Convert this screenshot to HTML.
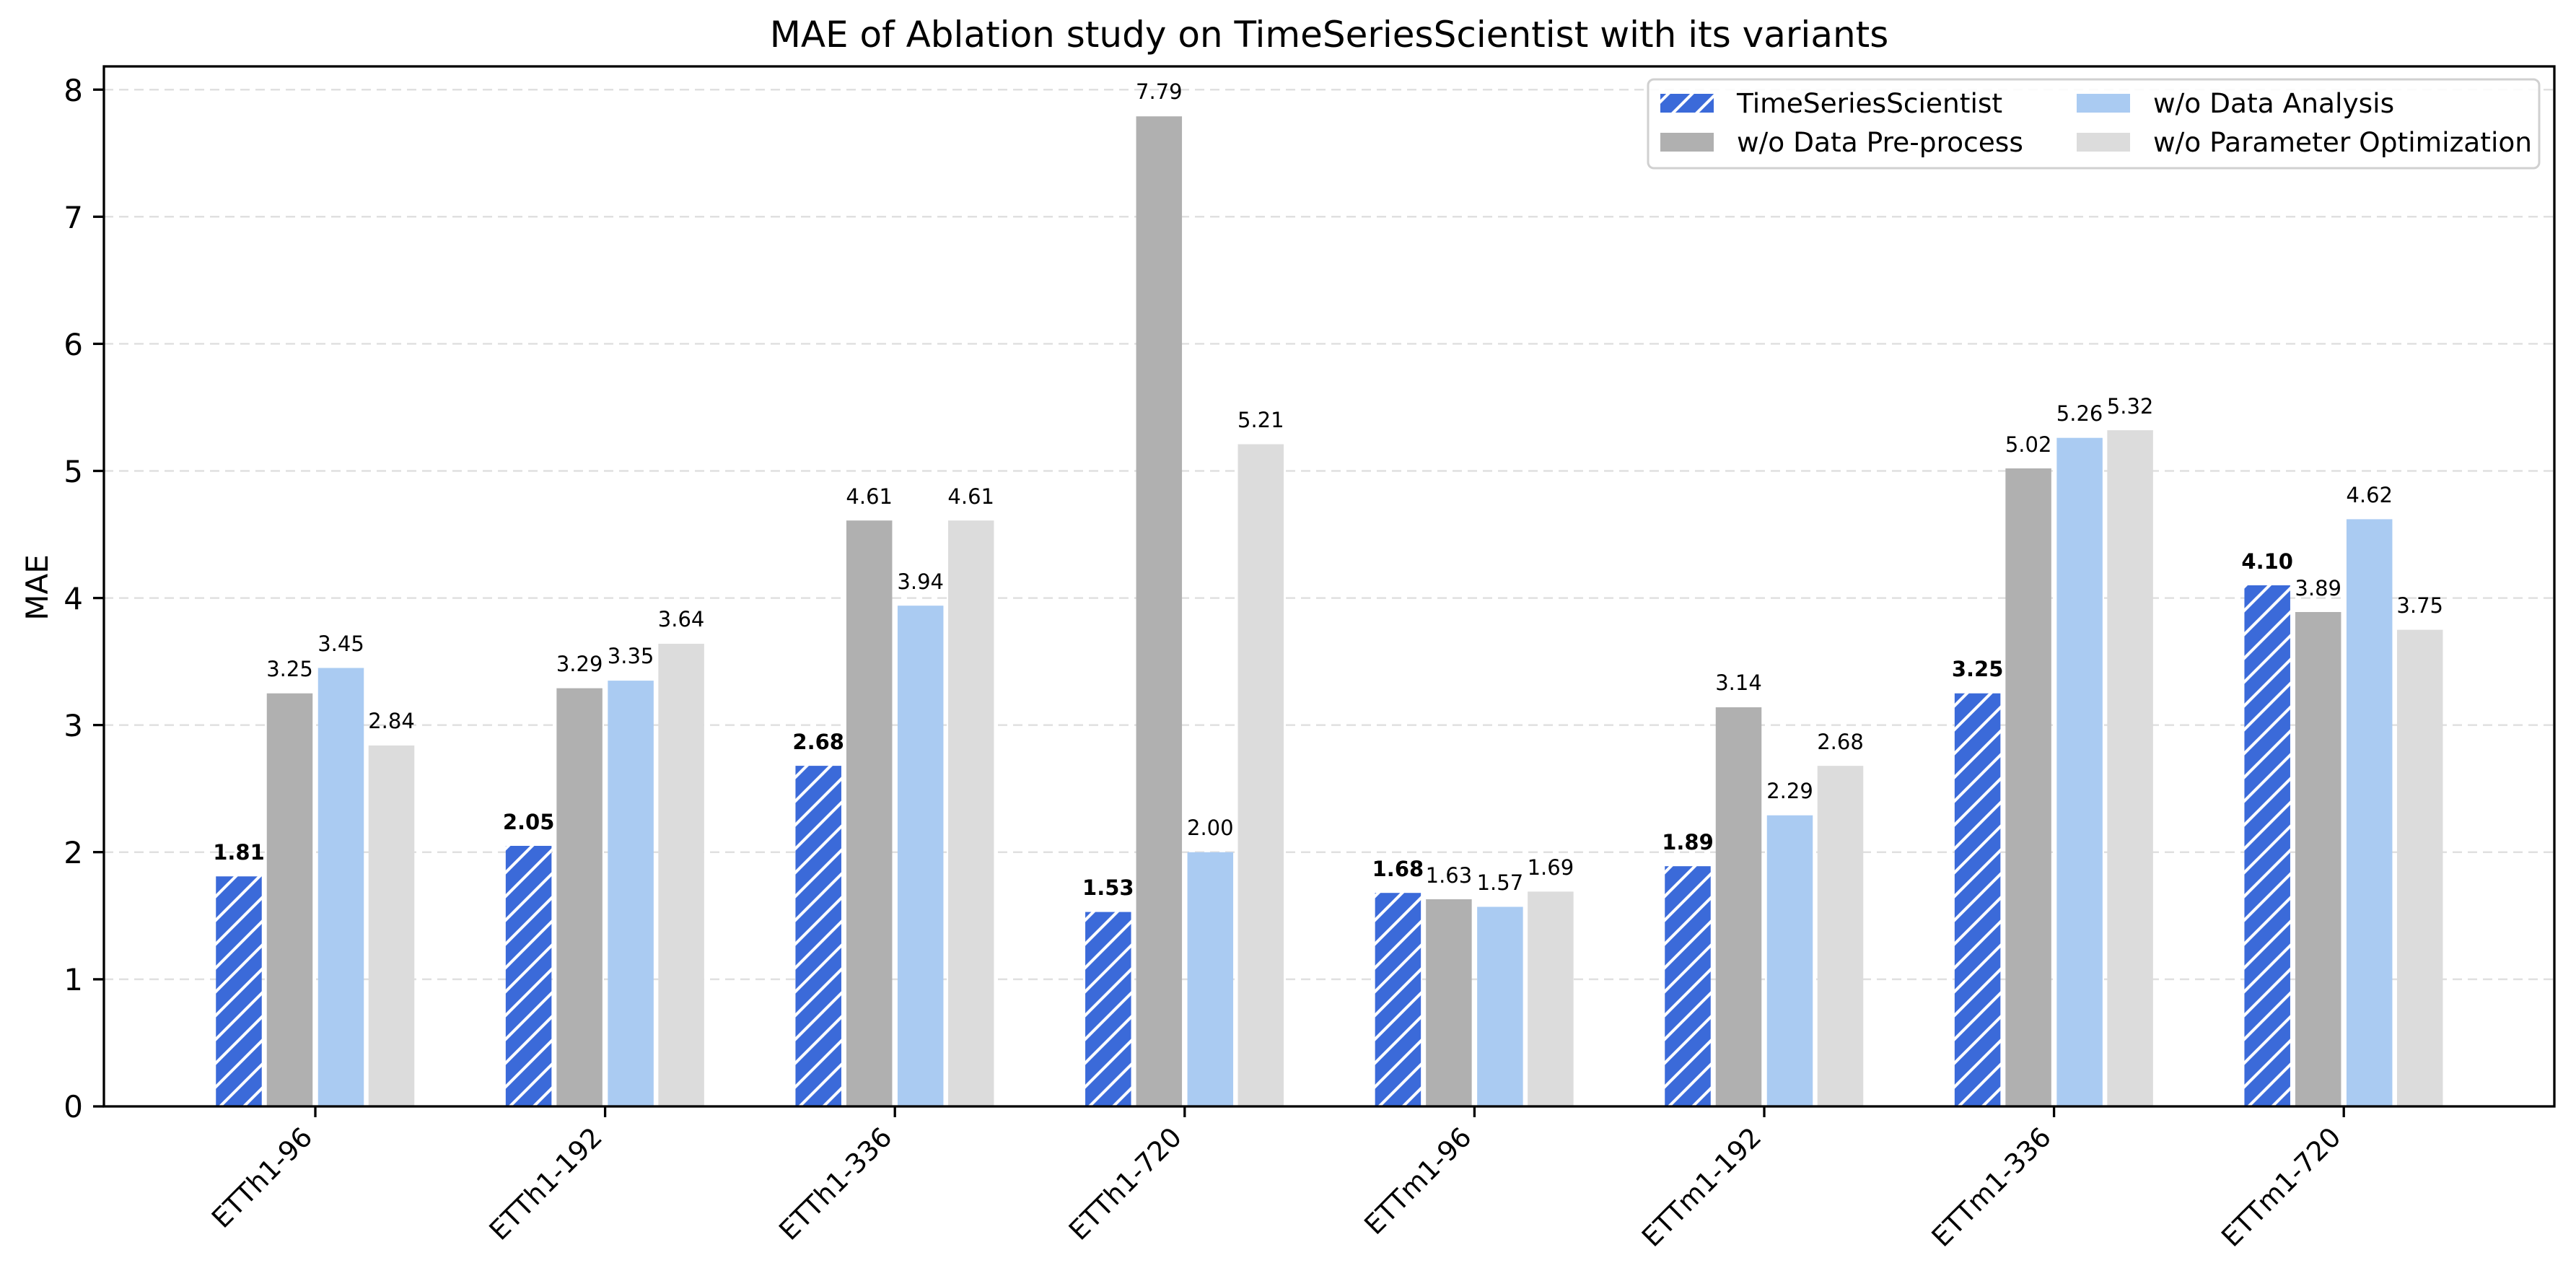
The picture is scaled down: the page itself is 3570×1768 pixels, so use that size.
<!DOCTYPE html>
<html><head><meta charset="utf-8"><style>
html,body{margin:0;padding:0;background:#fff;}
svg{display:block;font-family:"DejaVu Sans","Liberation Sans",sans-serif;}
</style></head><body>
<svg width="3570" height="1768" viewBox="0 0 3570 1768" xmlns="http://www.w3.org/2000/svg">
<defs>
<pattern id="h" patternUnits="userSpaceOnUse" width="33" height="33">
<rect width="33" height="33" fill="#3B6AD9"/>
<line x1="-8" y1="41" x2="41" y2="-8" stroke="#fff" stroke-width="4"/>
<line x1="-25" y1="25" x2="25" y2="-25" stroke="#fff" stroke-width="4"/>
<line x1="8" y1="58" x2="58" y2="8" stroke="#fff" stroke-width="4"/>
</pattern>
</defs>
<rect width="3570" height="1768" fill="#fff"/>
<text x="1842" y="65" font-size="50" text-anchor="middle">MAE of Ablation study on TimeSeriesScientist with its variants</text>
<g stroke="#e0e0e0" stroke-width="2.5" stroke-dasharray="13,8">
<line x1="144" x2="3540" y1="1356.9" y2="1356.9"/>
<line x1="144" x2="3540" y1="1180.7" y2="1180.7"/>
<line x1="144" x2="3540" y1="1004.6" y2="1004.6"/>
<line x1="144" x2="3540" y1="828.6" y2="828.6"/>
<line x1="144" x2="3540" y1="652.5" y2="652.5"/>
<line x1="144" x2="3540" y1="476.4" y2="476.4"/>
<line x1="144" x2="3540" y1="300.3" y2="300.3"/>
<line x1="144" x2="3540" y1="124.2" y2="124.2"/>
</g>
<g font-size="29" text-anchor="middle">
<g transform="translate(437,1533)">
<rect x="-137.75" y="-318.7" width="63.5" height="318.7" fill="url(#h)"/><text x="-106" y="-342" font-weight="bold">1.81</text>
<rect x="-67.25" y="-572.3" width="63.5" height="572.3" fill="#B0B0B0"/><text x="-35.5" y="-596">3.25</text>
<rect x="3.75" y="-607.5" width="63.5" height="607.5" fill="#AACBF2"/><text x="35.5" y="-631">3.45</text>
<rect x="73.75" y="-500.1" width="63.5" height="500.1" fill="#DCDCDC"/><text x="105.5" y="-524">2.84</text>
</g>
<g transform="translate(838.6,1533)">
<rect x="-137.75" y="-361" width="63.5" height="361" fill="url(#h)"/><text x="-106" y="-384" font-weight="bold">2.05</text>
<rect x="-67.25" y="-579.4" width="63.5" height="579.4" fill="#B0B0B0"/><text x="-35.5" y="-603">3.29</text>
<rect x="3.75" y="-589.9" width="63.5" height="589.9" fill="#AACBF2"/><text x="35.5" y="-614">3.35</text>
<rect x="73.75" y="-641" width="63.5" height="641" fill="#DCDCDC"/><text x="105.5" y="-665">3.64</text>
</g>
<g transform="translate(1240.2,1533)">
<rect x="-137.75" y="-471.9" width="63.5" height="471.9" fill="url(#h)"/><text x="-106" y="-495" font-weight="bold">2.68</text>
<rect x="-67.25" y="-811.8" width="63.5" height="811.8" fill="#B0B0B0"/><text x="-35.5" y="-835">4.61</text>
<rect x="3.75" y="-693.8" width="63.5" height="693.8" fill="#AACBF2"/><text x="35.5" y="-717">3.94</text>
<rect x="73.75" y="-811.8" width="63.5" height="811.8" fill="#DCDCDC"/><text x="105.5" y="-835">4.61</text>
</g>
<g transform="translate(1641.8,1533)">
<rect x="-137.75" y="-269.4" width="63.5" height="269.4" fill="url(#h)"/><text x="-106" y="-293" font-weight="bold">1.53</text>
<rect x="-67.25" y="-1371.8" width="63.5" height="1371.8" fill="#B0B0B0"/><text x="-35.5" y="-1396">7.79</text>
<rect x="3.75" y="-352.2" width="63.5" height="352.2" fill="#AACBF2"/><text x="35.5" y="-376">2.00</text>
<rect x="73.75" y="-917.5" width="63.5" height="917.5" fill="#DCDCDC"/><text x="105.5" y="-941">5.21</text>
</g>
<g transform="translate(2043.4,1533)">
<rect x="-137.75" y="-295.8" width="63.5" height="295.8" fill="url(#h)"/><text x="-106" y="-319" font-weight="bold">1.68</text>
<rect x="-67.25" y="-287" width="63.5" height="287" fill="#B0B0B0"/><text x="-35.5" y="-310">1.63</text>
<rect x="3.75" y="-276.5" width="63.5" height="276.5" fill="#AACBF2"/><text x="35.5" y="-300">1.57</text>
<rect x="73.75" y="-297.6" width="63.5" height="297.6" fill="#DCDCDC"/><text x="105.5" y="-321">1.69</text>
</g>
<g transform="translate(2445,1533)">
<rect x="-137.75" y="-332.8" width="63.5" height="332.8" fill="url(#h)"/><text x="-106" y="-356" font-weight="bold">1.89</text>
<rect x="-67.25" y="-553" width="63.5" height="553" fill="#B0B0B0"/><text x="-35.5" y="-577">3.14</text>
<rect x="3.75" y="-403.3" width="63.5" height="403.3" fill="#AACBF2"/><text x="35.5" y="-427">2.29</text>
<rect x="73.75" y="-471.9" width="63.5" height="471.9" fill="#DCDCDC"/><text x="105.5" y="-495">2.68</text>
</g>
<g transform="translate(2846.6,1533)">
<rect x="-137.75" y="-572.3" width="63.5" height="572.3" fill="url(#h)"/><text x="-106" y="-596" font-weight="bold">3.25</text>
<rect x="-67.25" y="-884" width="63.5" height="884" fill="#B0B0B0"/><text x="-35.5" y="-907">5.02</text>
<rect x="3.75" y="-926.3" width="63.5" height="926.3" fill="#AACBF2"/><text x="35.5" y="-950">5.26</text>
<rect x="73.75" y="-936.9" width="63.5" height="936.9" fill="#DCDCDC"/><text x="105.5" y="-960">5.32</text>
</g>
<g transform="translate(3248.2,1533)">
<rect x="-137.75" y="-722" width="63.5" height="722" fill="url(#h)"/><text x="-106" y="-745" font-weight="bold">4.10</text>
<rect x="-67.25" y="-685" width="63.5" height="685" fill="#B0B0B0"/><text x="-35.5" y="-708">3.89</text>
<rect x="3.75" y="-813.6" width="63.5" height="813.6" fill="#AACBF2"/><text x="35.5" y="-837">4.62</text>
<rect x="73.75" y="-660.4" width="63.5" height="660.4" fill="#DCDCDC"/><text x="105.5" y="-684">3.75</text>
</g>
</g>
<rect x="144" y="92" width="3396" height="1441" fill="none" stroke="#000" stroke-width="3.3"/>
<g stroke="#000" stroke-width="3.3">
<line x1="129" x2="144" y1="1533" y2="1533"/><line x1="129" x2="144" y1="1356.9" y2="1356.9"/>
<line x1="129" x2="144" y1="1180.7" y2="1180.7"/><line x1="129" x2="144" y1="1004.6" y2="1004.6"/>
<line x1="129" x2="144" y1="828.6" y2="828.6"/><line x1="129" x2="144" y1="652.5" y2="652.5"/>
<line x1="129" x2="144" y1="476.4" y2="476.4"/><line x1="129" x2="144" y1="300.3" y2="300.3"/>
<line x1="129" x2="144" y1="124.2" y2="124.2"/>
<line x1="437" x2="437" y1="1533" y2="1548"/><line x1="838.6" x2="838.6" y1="1533" y2="1548"/>
<line x1="1240.2" x2="1240.2" y1="1533" y2="1548"/><line x1="1641.8" x2="1641.8" y1="1533" y2="1548"/>
<line x1="2043.4" x2="2043.4" y1="1533" y2="1548"/><line x1="2445" x2="2445" y1="1533" y2="1548"/>
<line x1="2846.6" x2="2846.6" y1="1533" y2="1548"/><line x1="3248.2" x2="3248.2" y1="1533" y2="1548"/>
</g>
<g font-size="42" text-anchor="end">
<text x="115" y="1548">0</text><text x="115" y="1372">1</text><text x="115" y="1196">2</text>
<text x="115" y="1020">3</text><text x="115" y="844">4</text><text x="115" y="668">5</text>
<text x="115" y="492">6</text><text x="115" y="316">7</text><text x="115" y="140">8</text>
</g>
<text transform="translate(66,814) rotate(-90)" font-size="42" text-anchor="middle">MAE</text>
<g font-size="37.5" text-anchor="end">
<text transform="translate(435,1578) rotate(-45)">ETTh1-96</text>
<text transform="translate(836.6,1578) rotate(-45)">ETTh1-192</text>
<text transform="translate(1238.2,1578) rotate(-45)">ETTh1-336</text>
<text transform="translate(1639.8,1578) rotate(-45)">ETTh1-720</text>
<text transform="translate(2041.4,1578) rotate(-45)">ETTm1-96</text>
<text transform="translate(2443,1578) rotate(-45)">ETTm1-192</text>
<text transform="translate(2844.6,1578) rotate(-45)">ETTm1-336</text>
<text transform="translate(3246.2,1578) rotate(-45)">ETTm1-720</text>
</g>
<rect x="2284" y="110" width="1235" height="123" rx="8" fill="#fff" fill-opacity="0.85" stroke="#d0d0d0" stroke-width="3"/>
<rect x="2301" y="130" width="74" height="26" fill="url(#h)"/>
<rect x="2301" y="184" width="74" height="26" fill="#B0B0B0"/>
<rect x="2878" y="130" width="74" height="26" fill="#AACBF2"/>
<rect x="2878" y="184" width="74" height="26" fill="#DCDCDC"/>
<g font-size="37.5">
<text x="2407" y="156">TimeSeriesScientist</text>
<text x="2407" y="210">w/o Data Pre-process</text>
<text x="2984" y="156">w/o Data Analysis</text>
<text x="2984" y="210">w/o Parameter Optimization</text>
</g>
</svg>
</body></html>
